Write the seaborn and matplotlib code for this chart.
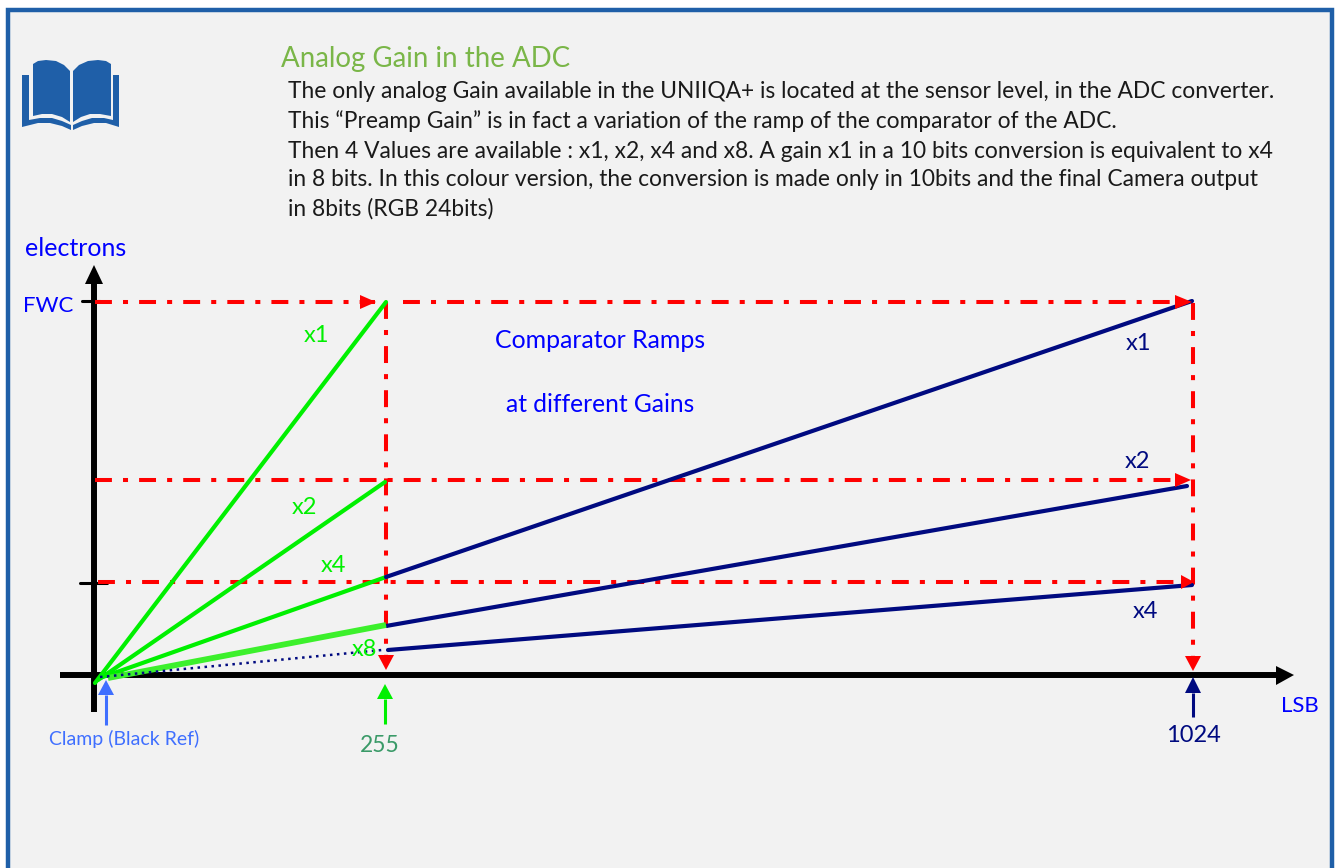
import numpy as np
import pandas as pd
import seaborn as sns
import matplotlib.pyplot as plt
from matplotlib.patches import Rectangle

title = 'Analog Gain in the ADC'
body_lines = [
    'The only analog Gain available in the UNIIQA+ is located at the sensor level, in the ADC converter.',
    'This \u201cPreamp Gain\u201d is in fact a variation of the ramp of the comparator of the ADC.',
    'Then 4 Values are available : x1, x2, x4 and x8. A gain x1 in a 10 bits conversion is equivalent to x4',
    'in 8 bits. In this colour version, the conversion is made only in 10bits and the final Camera output',
    'in 8bits (RGB 24bits)',
]
body_y = [92, 121, 151, 180, 209]

green_names = ['x1', 'x2', 'x4']
green_x = [[95, 386], [98, 385], [100, 386]]
green_y = [[683, 302], [680, 482], [678, 577]]
thick_x = [108, 386]
thick_y = [678, 625]

navy_names = ['x1', 'x2', 'x4']
navy_x = [[386, 1192], [386, 1187], [388, 1192]]
navy_y = [[577, 301], [626, 486], [650, 585]]
dotted_x = [100, 382]
dotted_y = [677, 650]

red_h = [(95, 375, 302), (403, 1180, 302), (95, 1180, 480), (98, 1185, 582)]
red_v = [(386, 302, 655), (1193, 303, 660)]

sns.set_style('white')
plt.rcParams['font.family'] = ['Lato', 'DejaVu Sans']

fig = plt.figure(figsize=(13.35, 8.68), dpi=100, facecolor='white')
ax = fig.add_axes([0, 0, 1, 1])
ax.set_xlim(0, 1335)
ax.set_ylim(868, 0)
ax.axis('off')

# panel and frame
ax.add_patch(Rectangle((8, 10), 1324, 870, fc='#f2f2f2', ec='#1f5fa8', lw=3.2, zorder=0))

# book icon
blue = '#1f5fa8'
ax.fill([22, 29, 29, 40, 52, 62, 71, 71, 62, 50, 38, 22],
        [75, 75, 120, 118, 118, 121, 125, 130, 126, 123, 123, 127], color=blue, lw=0, zorder=2)
ax.fill([119, 113, 113, 104, 92, 82, 73, 73, 82, 94, 106, 119],
        [75, 75, 120, 118, 118, 121, 125, 130, 126, 123, 123, 127], color=blue, lw=0, zorder=2)
ax.fill([33, 38, 46, 56, 64, 70, 70, 62, 52, 42, 33],
        [64, 61, 60, 61, 65, 71, 122, 117, 114, 114, 116], color=blue, lw=0, zorder=2)
ax.fill([111, 106, 98, 88, 79, 73, 73, 81, 90, 100, 111],
        [64, 61, 60, 61, 65, 71, 122, 117, 114, 114, 116], color=blue, lw=0, zorder=2)

# axes of the sketch
ax.plot([60, 1278], [675, 675], color='black', lw=4.3, solid_capstyle='butt', zorder=3)
ax.plot([94, 94], [712, 283], color='black', lw=4.3, solid_capstyle='butt', zorder=3)
ax.fill([1276, 1294, 1276], [666, 675, 685], color='black', lw=0, zorder=3)
ax.fill([85, 94, 103], [284, 265, 284], color='black', lw=0, zorder=3)
ax.plot([82, 100], [301, 301], color='black', lw=2.2, zorder=3)
ax.plot([80, 107], [583, 583], color='black', lw=2.2, zorder=3)

# ramps
ramps = []
for name, xs, ys in zip(green_names, green_x, green_y):
    ramps.append(pd.DataFrame({'x': xs, 'y': ys, 'ramp': 'low ' + name}))
for name, xs, ys in zip(navy_names, navy_x, navy_y):
    ramps.append(pd.DataFrame({'x': xs, 'y': ys, 'ramp': 'high ' + name}))
ramps = pd.concat(ramps)
pal = {'low ' + n: '#00f000' for n in green_names}
pal.update({'high ' + n: '#000a80' for n in navy_names})
sns.lineplot(data=ramps, x='x', y='y', hue='ramp', palette=pal, lw=3.0, legend=False,
             estimator=None, sort=False, ax=ax, zorder=5)
ax.plot(thick_x, thick_y, color='#3cf02c', lw=4.2, solid_capstyle='butt', zorder=5)
ax.plot(dotted_x, dotted_y, color='#000a80', lw=1.8, ls=(0, (1, 1.8)), zorder=6)
ax.set_xlabel('')
ax.set_ylabel('')

# red guides
dash = (0, (4.2, 2.75, 1.25, 2.75))
for x0, x1, y in red_h:
    ax.plot([x0, x1], [y, y], color='red', lw=2.9, ls=dash, zorder=4)
for x, y0, y1 in red_v:
    ax.plot([x, x], [y0, y1], color='red', lw=2.9, ls=dash, zorder=4)
for tip, base, y in [(376, 360, 302), (1192, 1175, 302), (1191, 1175, 480), (1194, 1181, 582)]:
    ax.fill([base, tip, base], [y - 7, y, y + 7], color='red', lw=0, zorder=6)
for x, tip, base in [(386, 670, 655), (1193, 671, 656)]:
    ax.fill([x - 8, x, x + 8], [base, tip, base], color='red', lw=0, zorder=6)

# small arrows under the axis
for x, y0, tip, base, col in [(106, 725, 680, 695, '#3f6fff'), (385, 724, 684, 699, '#00f000'),
                              (1193, 717, 677, 693, '#000a80')]:
    ax.plot([x, x], [y0, base], color=col, lw=2.2, solid_capstyle='butt', zorder=6)
    ax.fill([x - 8, x, x + 8], [base, tip, base], color=col, lw=0, zorder=6)

# text
ax.text(281, 59, title, color='#7ab648', fontsize=19.9, va='center', ha='left')
for line, y in zip(body_lines, body_y):
    ax.text(288, y, line, color='#1a1a1a', fontsize=16.4, va='center', ha='left')

labels = [
    (76, 249, 'electrons', 'blue', 18),
    (48, 306, 'FWC', 'blue', 16),
    (600, 341, 'Comparator Ramps', 'blue', 17.9),
    (600, 405, 'at different Gains', 'blue', 17.7),
    (316, 335, 'x1', '#00f000', 17),
    (304, 507, 'x2', '#00f000', 17),
    (333, 566, 'x4', '#00f000', 17),
    (364, 650, 'x8', '#00f000', 17),
    (1138, 344, 'x1', '#000a80', 17),
    (1137, 462, 'x2', '#000a80', 17),
    (1145, 612, 'x4', '#000a80', 17),
    (1300, 706, 'LSB', 'blue', 16),
    (1193, 735, '1024', '#000a80', 17),
    (380, 746, '255', '#3a9a68', 16.5),
    (124, 739, 'Clamp (Black Ref)', '#3f6fff', 14),
]
for x, y, s, col, size in labels:
    ax.text(x, y, s, color=col, fontsize=size, ha='center', va='center', zorder=7)

fig.savefig('out.png', dpi=100, facecolor='white')
